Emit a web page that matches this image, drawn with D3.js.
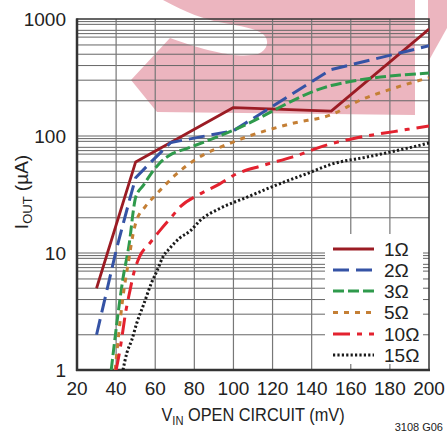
<!DOCTYPE html>
<html>
<head>
<meta charset="utf-8">
<script src="https://cdn.jsdelivr.net/npm/d3@7/dist/d3.min.js"></script>
<style>
  html, body { margin: 0; padding: 0; background: #fff; }
  svg { display: block; }
  text { font-family: "Liberation Sans Narrow", "Arial Narrow", "Liberation Sans", sans-serif; fill: #222; }
</style>
</head>
<body>
<svg id="chart" width="447" height="434"></svg>
<script>
// ---- data ----
const xTicks = [20, 40, 60, 80, 100, 120, 140, 160, 180, 200];
const yTicks = [1, 10, 100, 1000];
const gridMultiples = [2, 3, 4, 5, 6, 7, 7.5, 8, 9, 9.5];
const seriesNames = ["1Ω", "2Ω", "3Ω", "5Ω", "10Ω", "15Ω"];

const r1 = [[30, 5], [50, 60], [100, 175], [150, 163], [200, 820]];
const r2 = [[30, 2], [40, 10.5], [47, 29], [50, 44], [57, 58], [68, 88], [100, 111], [150, 370], [200, 590]];
const r3 = [[37.5, 1], [43.4, 5.9], [47, 13], [48.8, 23], [50, 30], [54, 38], [58, 48], [62, 58], [69, 71], [76, 78], [100, 112], [150, 270], [165, 302], [200, 345]];
const r5 = [[39.5, 1], [43.5, 4.2], [46.5, 8.8], [48.5, 14], [50, 18], [55, 25], [60, 31], [65, 38], [70, 46], [80, 62], [100, 89], [130, 128], [150, 152], [165, 203], [182, 256], [200, 315]];
const r10 = [[40, 1], [42, 1.5], [45, 3.2], [47, 4.7], [49, 6.7], [52, 9.3], [57, 12], [63, 16], [68, 20], [73, 25], [83, 32], [93, 39], [100, 46], [115, 56], [130, 66], [148, 84], [165, 98], [182, 109], [200, 122]];
const r15 = [[43.5, 1], [45.5, 1.4], [48, 1.8], [50.5, 2.5], [54, 3.6], [58, 5.5], [61, 7.1], [64, 9.3], [67.5, 11], [72.5, 13.4], [78, 15.5], [83, 19], [93, 24], [107, 30], [120, 37], [138, 48], [151, 58], [168, 66], [185, 76], [200, 87]];

const seriesData = [r1, r2, r3, r5, r10, r15];
const seriesColors = ["#9B1C24", "#3553A5", "#2F9A4C", "#C47F35", "#E3222F", "#1a1a1a"];
const seriesDash = [null, "16,7", "11,4", "5,6", "17,7,5,7", "2.2,2.2"];
const seriesCurve = [d3.curveLinear, d3.curveLinear, d3.curveMonotoneX, d3.curveMonotoneX, d3.curveMonotoneX, d3.curveMonotoneX];

// ---- layout ----
const svg = d3.select("#chart");
const L = 77, R = 429, T = 19, B = 370;
const x = d3.scaleLinear().domain([20, 200]).range([L, R]);
const y = d3.scaleLog().domain([1, 1000]).range([B, T]);

// watermark
const wm = svg.append("g").attr("fill", "#E9A9B4").attr("opacity", 0.85);
wm.append("path").attr("d",
  "M163,0 C185,12 205,20 224,23 C240,26 255,28 263,34 C270,40 268,50 258,54 C240,58 215,54 170,38 L131,80 L157,112 L415,115 L415,0 Z");
wm.append("path").attr("d", "M428,0 L447,0 L447,28 L428,62 Z");

// grid
const grid = svg.append("g");
const gridVals = [];
[1, 10, 100].forEach(d => gridMultiples.forEach(k => gridVals.push(d * k)));
gridVals.push(10, 100);
grid.selectAll("line.h").data(gridVals).join("line")
  .attr("x1", L).attr("x2", R)
  .attr("y1", d => y(d)).attr("y2", d => y(d))
  .attr("stroke", "#666").attr("stroke-width", 1);
grid.selectAll("line.v").data(xTicks.slice(1, -1)).join("line")
  .attr("x1", d => x(d)).attr("x2", d => x(d))
  .attr("y1", T).attr("y2", B)
  .attr("stroke", "#777").attr("stroke-width", 1.2);

// legend background box (covers grid)
svg.append("rect").attr("x", 325).attr("y", 234).attr("width", 98).attr("height", 130).attr("fill", "#fff");

// frame
svg.append("rect").attr("x", L).attr("y", T).attr("width", R - L).attr("height", B - T)
  .attr("fill", "none").attr("stroke", "#333").attr("stroke-width", 1.5);
svg.append("line").attr("x1", L).attr("x2", L).attr("y1", T - 0.5).attr("y2", B + 1)
  .attr("stroke", "#333").attr("stroke-width", 2.5);
svg.append("line").attr("x1", L - 1).attr("x2", R + 1).attr("y1", B).attr("y2", B)
  .attr("stroke", "#333").attr("stroke-width", 2.5);

// curves
svg.append("clipPath").attr("id", "clip").append("rect")
  .attr("x", L).attr("y", T).attr("width", R - L).attr("height", B - T);
const lines = svg.append("g").attr("clip-path", "url(#clip)");
seriesData.forEach((data, i) => {
  const gen = d3.line().x(d => x(d[0])).y(d => y(d[1])).curve(seriesCurve[i]);
  lines.append("path").datum(data).attr("d", gen)
    .attr("fill", "none").attr("stroke", seriesColors[i])
    .attr("stroke-width", i === 0 ? 2.8 : 3)
    .attr("stroke-dasharray", seriesDash[i])
    .attr("stroke-linejoin", "round");
});

// x tick labels
svg.append("g").selectAll("text").data(xTicks).join("text")
  .attr("x", d => x(d)).attr("y", 395)
  .attr("text-anchor", "middle").attr("font-size", 19)
  .text(d => d);
// y tick labels
svg.append("g").selectAll("text").data(yTicks).join("text")
  .attr("x", 66).attr("y", d => y(d)).attr("dy", "0.36em")
  .attr("text-anchor", "end").attr("font-size", 19)
  .text(d => d);

// axis titles
const xt = svg.append("g").attr("transform", "translate(253,421) scale(0.86,1)")
  .append("text").attr("x", 0).attr("y", 0).attr("text-anchor", "middle").attr("font-size", 19);
xt.append("tspan").text("V");
xt.append("tspan").attr("font-size", 13).attr("dy", 4).text("IN");
xt.append("tspan").attr("dy", -4).text(" OPEN CIRCUIT (mV)");

const yt = svg.append("text").attr("transform", "translate(28,192) rotate(-90)").attr("text-anchor", "middle").attr("font-size", 19);
yt.append("tspan").text("I");
yt.append("tspan").attr("font-size", 13).attr("dy", 4).text("OUT");
yt.append("tspan").attr("dy", -4).text(" (µA)");

// legend
const legRows = [249, 270, 291, 312.5, 334, 355];
const leg = svg.append("g");
seriesNames.forEach((name, i) => {
  leg.append("line").attr("x1", 333).attr("x2", 374).attr("y1", legRows[i]).attr("y2", legRows[i])
    .attr("stroke", seriesColors[i]).attr("stroke-width", 3).attr("stroke-dasharray", seriesDash[i]);
  leg.append("text").attr("x", 384).attr("y", legRows[i]).attr("dy", "0.36em")
    .attr("font-size", 19).text(name);
});

// figure code
svg.append("text").attr("x", 443).attr("y", 431).attr("text-anchor", "end")
  .attr("font-size", 11).text("3108 G06");
</script>
</body>
</html>
